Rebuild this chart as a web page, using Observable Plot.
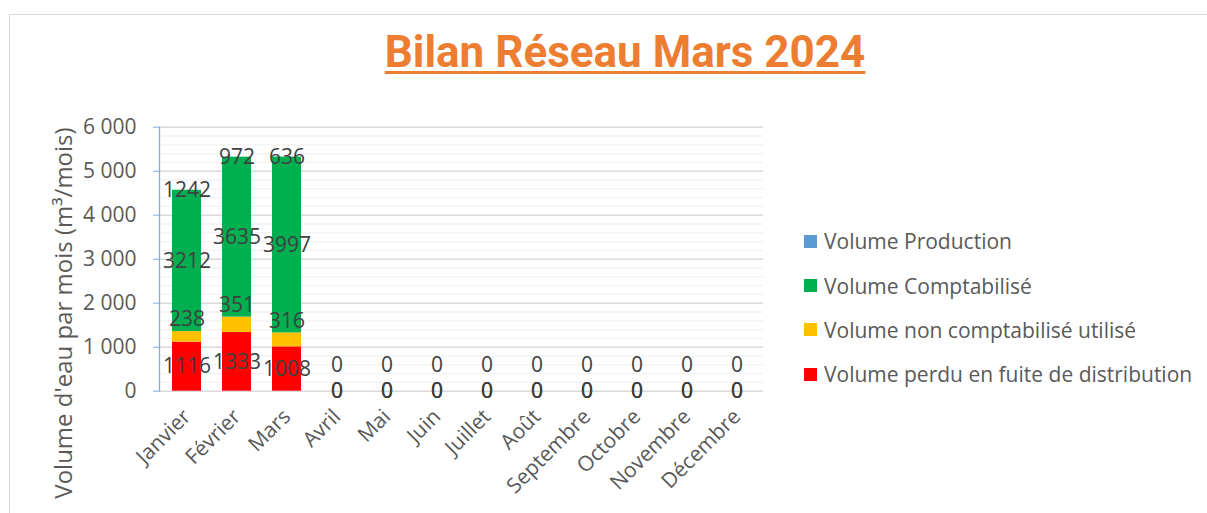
<!DOCTYPE html>
<html><head><meta charset="utf-8">
<script src="https://cdn.jsdelivr.net/npm/d3@7"></script>
<script src="https://cdn.jsdelivr.net/npm/@observablehq/plot@0.6"></script>
<style>
body{margin:0;background:#fff;}
#wrap{position:relative;width:1207px;height:513px;overflow:hidden;font-family:"Open Sans",sans-serif;background:#fff;}
#border{position:absolute;left:9px;top:14px;width:1400px;height:700px;border:1.5px solid #d9d9d9;}
#title{position:absolute;left:0;top:30px;width:1250px;text-align:center;font-family:Roboto,sans-serif;font-weight:700;font-size:44px;line-height:44px;color:#ED7D31;}
#title span{text-decoration:underline;text-decoration-thickness:3px;text-underline-offset:4px;}
#ylab{position:absolute;left:-187px;top:297px;width:500px;height:32px;line-height:32px;text-align:center;transform:rotate(-90deg);transform-origin:50% 50%;font-size:24px;color:#595959;white-space:nowrap;}
#chart{position:absolute;left:0;top:0;}
#legend{position:absolute;left:804px;top:219px;}
.lg-swatches{font-family:"Open Sans",sans-serif!important;font-size:21px!important;color:#595959!important;margin:0!important;}
.lg-swatch{height:44.4px;padding:0!important;}
.lg-swatch svg{margin-right:7px!important;}
</style>
</head><body>
<div id="wrap">
  <div id="border"></div>
  <div id="title"><span>Bilan Réseau Mars 2024</span></div>
  <div id="chart"></div>
  <div id="ylab">Volume d'eau par mois (m³/mois)</div>
  <div id="legend"></div>
</div>
<script>
const mois = ["Janvier","Février","Mars","Avril","Mai","Juin","Juillet","Août","Septembre","Octobre","Novembre","Décembre"];
const volumePerdu = [1116,1333,1008,0,0,0,0,0,0,0,0,0];
const volumeNonComptabilise = [238,351,316,0,0,0,0,0,0,0,0,0];
const volumeComptabilise = [3212,3635,3997,0,0,0,0,0,0,0,0,0];
const etiquetteProduction = [1242,972,636,0,0,0,0,0,0,0,0,0];
const series = ["Volume Production","Volume Comptabilisé","Volume non comptabilisé utilisé","Volume perdu en fuite de distribution"];
const couleurs = ["#5B9BD5","#00B050","#FFC000","#FF0000"];
const yTicks = [0,1000,2000,3000,4000,5000,6000];
const yMinor = d3.range(200, 6000, 200).filter(v => v % 1000 !== 0);

const rows = [];
mois.forEach((m, i) => {
  rows.push({mois: m, serie: series[3], value: volumePerdu[i]});
  rows.push({mois: m, serie: series[2], value: volumeNonComptabilise[i]});
  rows.push({mois: m, serie: series[1], value: volumeComptabilise[i]});
});
const lab = mois.map((m, i) => {
  const p = volumePerdu[i], n = volumeNonComptabilise[i], c = volumeComptabilise[i];
  return {mois: m, p, n, c, prod: etiquetteProduction[i],
    yRed: p / 2, yYellow: p + n, yGreen: p + n + c / 2, yTop: p + n + c};
});
const fmt = d => d3.format(",")(d).replace(/,/g, " ");
const labelColor = "#404040";
const fs = 21;

const chart = Plot.plot({
  width: 1207, height: 513,
  marginLeft: 159, marginRight: 444, marginTop: 126.7, marginBottom: 122.3,
  style: {fontFamily: "Open Sans", color: "#595959", background: "transparent", overflow: "visible"},
  x: {type: "band", domain: mois, paddingInner: 0.42, paddingOuter: 0.21},
  y: {domain: [0, 6000]},
  color: {domain: series, range: couleurs},
  marks: [
    Plot.ruleY(yMinor, {stroke: "#F2F2F2", strokeWidth: 1.3}),
    Plot.ruleY(yTicks, {stroke: "#D9D9D9", strokeWidth: 1.4}),
    Plot.barY(rows, {x: "mois", y: "value", fill: "serie", order: [series[3], series[2], series[1]]}),
    Plot.frame({anchor: "left", stroke: "#7FAEDD", strokeWidth: 1.3}),
    Plot.axisY(yTicks, {tickSize: 6, tickPadding: 17, stroke: "#7FAEDD", fill: "#595959", fontSize: fs, tickFormat: fmt, label: null}),
    Plot.axisX({tickSize: 0, tickPadding: 22, tickRotate: -45, fontSize: 21, fill: "#595959", label: null}),
    Plot.text(lab, {x: "mois", y: "yRed", text: d => String(d.p), fontSize: fs, fill: labelColor}),
    Plot.text(lab.filter(d => d.n !== 0), {x: "mois", y: "yYellow", text: d => String(d.n), dy: -12, fontSize: fs, fill: labelColor}),
    Plot.text(lab.filter(d => d.n === 0), {x: "mois", y: "yYellow", text: d => String(d.n), dy: -26, fontSize: fs, fill: labelColor}),
    Plot.text(lab, {x: "mois", y: "yGreen", text: d => String(d.c), fontSize: fs, fill: labelColor}),
    Plot.text(lab, {x: "mois", y: "yTop", text: d => String(d.prod), fontSize: fs, fill: labelColor})
  ]
});
document.getElementById("chart").appendChild(chart);

const legend = Plot.legend({color: {domain: series, range: couleurs}, legend: "swatches", columns: 1, swatchSize: 13, className: "lg"});
document.getElementById("legend").appendChild(legend);
</script>
</body></html>
